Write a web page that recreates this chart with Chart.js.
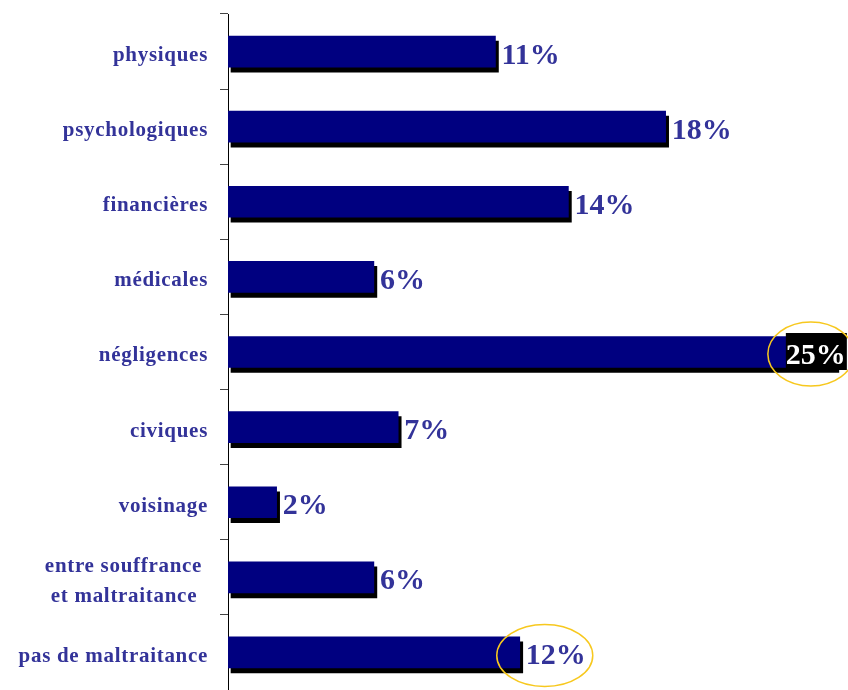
<!DOCTYPE html>
<html>
<head>
<meta charset="utf-8">
<script src="https://cdn.jsdelivr.net/npm/chart.js@4/dist/chart.umd.min.js"></script>
<style>
  html, body { margin: 0; padding: 0; background: #fff; }
  #wrap { width: 848px; height: 690px; }
</style>
</head>
<body>
<div id="wrap"><canvas id="maltraitance"></canvas></div>
<script>
const categories = [
  'physiques', 'psychologiques', 'financières', 'médicales', 'négligences',
  'civiques', 'voisinage', ['entre souffrance\u00a0', 'et maltraitance\u00a0\u2009'], 'pas de maltraitance'
]
const percentages = [11, 18, 14, 6, 25, 7, 2, 6, 12]

const textBlue = '#333399'
const serif = '"Liberation Serif", "Times New Roman", serif'

// black drop shadow under every bar
const barShadow = {
  id: 'barShadow',
  beforeDraw(chart) {
    chart.ctx.letterSpacing = '0.7px'
  },
  beforeDatasetsDraw(chart) {
    const ctx = chart.ctx
    ctx.save()
    ctx.shadowColor = '#000'
    ctx.shadowOffsetX = 3
    ctx.shadowOffsetY = 5
    ctx.shadowBlur = 0
  },
  afterDatasetsDraw(chart) {
    chart.ctx.restore()
  }
}

const valueLabels = {
  id: 'valueLabels',
  afterDatasetsDraw(chart) {
    const ctx = chart.ctx
    const bars = chart.getDatasetMeta(0).data
    ctx.save()
    ctx.letterSpacing = '0px'
    ctx.font = 'bold 30px ' + serif
    ctx.textBaseline = 'alphabetic'
    bars.forEach((bar, i) => {
      const txt = percentages[i] + '%'
      if (i === 4) {
        ctx.fillStyle = '#000'
        ctx.fillRect(bar.x - 50, bar.y - 19, 61, 37)
        ctx.fillStyle = '#fff'
        ctx.textAlign = 'center'
        ctx.fillText(txt, bar.x - 20, bar.y + 12)
      } else {
        ctx.fillStyle = textBlue
        ctx.textAlign = 'left'
        ctx.fillText(txt, bar.x + 6, bar.y + 12)
      }
    })
    // yellow rings around the two highlighted values
    ctx.strokeStyle = '#F7C81E'
    ctx.lineWidth = 1.5
    const b4 = bars[4], b8 = bars[8]
    ctx.beginPath()
    ctx.ellipse(b4.x - 25, b4.y + 2, 43, 32, 0, 0, Math.PI * 2)
    ctx.stroke()
    ctx.beginPath()
    ctx.ellipse(b8.x + 25, b8.y + 3, 48, 31, 0, 0, Math.PI * 2)
    ctx.stroke()
    ctx.restore()
  }
}

new Chart(
  document.getElementById('maltraitance'),
  {
    type: 'bar',
    data: {
      labels: categories,
      datasets: [
        {
          data: percentages,
          backgroundColor: '#000080',
          borderWidth: 0,
          barThickness: 31
        }
      ]
    },
    options: {
      indexAxis: 'y',
      responsive: true,
      maintainAspectRatio: false,
      animation: false,
      events: [],
      layout: {
        padding: { top: 14, right: 0, bottom: -4, left: 0 }
      },
      plugins: {
        legend: { display: false },
        tooltip: { enabled: false }
      },
      scales: {
        x: {
          display: false,
          min: 0,
          max: 25.5
        },
        y: {
          afterFit(scale) {
            scale.width = 228
            scale.paddingTop = 0
            scale.paddingBottom = 0
          },
          border: { display: true, color: '#000', width: 1 },
          grid: {
            offset: true,
            drawOnChartArea: false,
            drawTicks: true,
            tickLength: 8,
            color: '#444'
          },
          ticks: {
            padding: 12,
            labelOffset: 4,
            color: textBlue,
            font: { family: serif, size: 21, weight: 'bold', lineHeight: 1.45 }
          }
        }
      }
    },
    plugins: [barShadow, valueLabels]
  }
)
</script>
</body>
</html>
